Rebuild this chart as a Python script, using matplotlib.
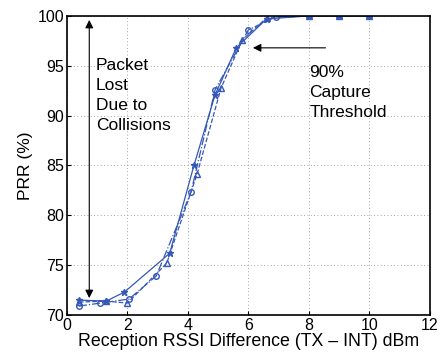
import matplotlib.pyplot as plt

plt.rcParams['font.family'] = ['Liberation Sans', 'DejaVu Sans']

# Data
x_star = [0.4, 1.3, 1.9, 3.4, 4.2, 4.9, 5.6, 6.6, 8, 9, 10]
y_star = [71.5, 71.4, 72.3, 76.2, 85.0, 92.1, 96.8, 99.7, 100, 100, 100]

x_tri = [0.4, 1.3, 2.0, 3.3, 4.3, 5.1, 5.8, 6.6, 8, 9, 10]
y_tri = [71.3, 71.4, 71.2, 75.2, 84.1, 92.8, 97.6, 99.8, 100, 100, 100]

x_circ = [0.4, 1.1, 2.05, 2.95, 4.1, 4.9, 6.0, 6.9, 8, 9, 10]
y_circ = [70.9, 71.2, 71.6, 73.9, 82.3, 92.6, 98.6, 99.9, 100, 100, 100]

blue = '#3557b8'

fig = plt.figure(figsize=(4.4, 3.54), dpi=100)
ax = fig.add_axes([0.152, 0.110, 0.825, 0.845])

ax.plot(x_star, y_star, '-', color=blue, marker='*', markersize=4.5, linewidth=0.9)
ax.plot(x_tri, y_tri, '--', color=blue, marker='^', markersize=4,
        markerfacecolor='none', linewidth=0.9)
ax.plot(x_circ, y_circ, '-.', color=blue, marker='o', markersize=4,
        markerfacecolor='none', linewidth=0.9)

ax.set_xlim(0, 12)
ax.set_ylim(70, 100)
ax.set_xticks(range(0, 13, 2))
ax.set_yticks(range(70, 101, 5))
ax.grid(True, linestyle=(0, (1, 3)), color='#888888', linewidth=0.6)
ax.tick_params(direction='in', length=3, labelsize=11.5, pad=2)
for s in ax.spines.values():
    s.set_linewidth(1.2)

ax.set_xlabel("Reception RSSI Difference (TX \u2013 INT) dBm", fontsize=12.8, labelpad=0)
ax.set_ylabel("PRR (%)", fontsize=12.5, labelpad=3)

# Annotations
ax.annotate('', xy=(0.74, 99.6), xytext=(0.74, 71.7),
            arrowprops=dict(arrowstyle='<|-|>', color='black', lw=0.8,
                            mutation_scale=12, shrinkA=0, shrinkB=0))
ax.text(0.96, 88.6, "Packet\nLost\nDue to\nCollisions", fontsize=12.5,
        va='baseline', ha='left', linespacing=1.4)

ax.annotate('', xy=(6.15, 96.8), xytext=(8.55, 96.8),
            arrowprops=dict(arrowstyle='-|>', color='black', lw=0.8,
                            mutation_scale=12, shrinkA=0, shrinkB=0))
ax.text(8.02, 89.9, "90%\nCapture\nThreshold", fontsize=12.5,
        va='baseline', ha='left', linespacing=1.4)

fig.savefig('out.png', dpi=100)
